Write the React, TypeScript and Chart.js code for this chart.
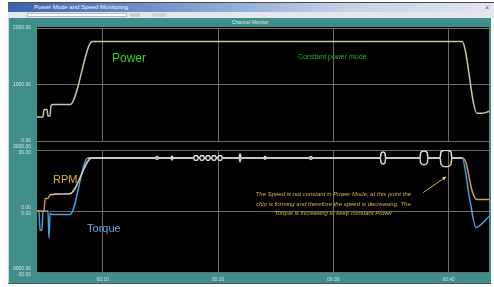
import React, { useEffect, useRef } from "react";
import { Chart, registerables } from "chart.js";

Chart.register(...registerables);

// ---------- data ----------
const timeTicks = [10, 20, 30, 40];
const timeTickLabels = ["00:10", "00:20", "00:30", "00:40"];

const powerTicks = [0, 1000, 2000];
const powerTickLabels = ["0.00", "1000.00", "2000.00"];

const lowerTicks = [-3000, 0, 3000];
const rpmTickLabels = ["-3000.00", "0.00", "3000.00"];
const torqueTickLabels = ["-30.00", "0.00", "30.00"];

const powerTime = [4.3, 4.82, 4.91, 5.17, 5.25, 5.43, 5.51, 5.69, 7.16, 8.9, 9.16, 41.16, 42.46, 42.98, 43.5];
const powerWatts = [424, 424, 559, 559, 441, 441, 627, 644, 644, 1729, 1763, 1763, 492, 492, 525];

// shared time stamps of the constant-power section (where the traces split into small loops)
const cruiseTime = [
  14.54, 14.71, 14.88, 15.92, 16.01, 16.1,
  17.87, 17.98, 18.2, 18.31, 18.39, 18.5, 18.72, 18.83, 18.91, 19.02, 19.24, 19.35,
  19.43, 19.54, 19.76, 19.87, 19.95, 20.06, 20.28, 20.39,
  21.82, 21.91, 22.0, 23.94, 24.07, 24.2, 27.89, 28.06, 28.23,
  34.09, 34.13, 34.31, 34.49, 34.53,
  37.51, 37.58, 37.86, 38.14, 38.21,
  39.25, 39.35, 39.77, 40.19, 40.29,
  41.16,
];
const rpmCruise = [
  2610, 2537, 2610, 2610, 2512, 2610,
  2610, 2500, 2500, 2610, 2610, 2500, 2500, 2610, 2610, 2500, 2500, 2610,
  2610, 2500, 2500, 2610, 2610, 2500, 2500, 2610,
  2610, 2415, 2610, 2610, 2537, 2610, 2610, 2537, 2610,
  2610, 2390, 2317, 2390, 2610,
  2610, 2354, 2269, 2354, 2610,
  2610, 2280, 2171, 2280, 2610,
  2610,
];
const torqueCruise = [
  26.1, 26.8, 26.1, 26.1, 27.1, 26.1,
  26.1, 27.2, 27.2, 26.1, 26.1, 27.2, 27.2, 26.1, 26.1, 27.2, 27.2, 26.1,
  26.1, 27.2, 27.2, 26.1, 26.1, 27.2, 27.2, 26.1,
  26.1, 28.1, 26.1, 26.1, 26.8, 26.1, 26.1, 26.8, 26.1,
  26.1, 28.3, 29.0, 28.3, 26.1,
  26.1, 28.7, 29.5, 28.7, 26.1,
  26.1, 29.2, 29.9, 29.2, 26.1,
  26.1,
];

const rpmStartTime = [4.3, 4.91, 5.0, 5.25, 5.43, 7.16, 9.07];
const rpmStart = [0, 0, 610, 610, 805, 854, 2610];
const rpmEndTime = [41.51, 42.03, 42.46, 43.5];
const rpmEnd = [2366, 1000, 561, 561];

const torqueStartTime = [4.3, 4.47, 4.56, 4.73, 4.82, 5.25, 5.34, 5.43, 5.6, 7.16, 8.72];
const torqueStart = [0, 0, -9.5, -9.5, 0, 0, -13.4, -1.2, -1.7, -1.7, 26.1];
const torqueEndTime = [41.85, 42.37, 43.5];
const torqueEnd = [5.1, -8.0, -2.7];

const noteLines = [
  "The Speed is not constant in Power Mode, at this point the",
  "chip is forming and therefore the speed is decreasing. The",
  "Torque is increasing to keep constant Power",
];

const FONT = '"Liberation Sans", Arial, sans-serif';

const toPoints = (xs: number[], ys: number[]) => xs.map((x, i) => ({ x, y: ys[i] }));

const X_MIN = 4.3;
const X_MAX = 43.5;

const xAxis = (showLabels: boolean) => ({
  type: "linear" as const,
  min: X_MIN,
  max: X_MAX,
  afterBuildTicks: (s: any) => {
    s.ticks = timeTicks.map((v) => ({ value: v }));
  },
  afterFit: (s: any) => {
    s.height = showLabels ? 13 : 0;
  },
  ticks: {
    display: showLabels,
    color: "#cfe3e0",
    font: { size: 5, family: FONT },
    padding: 5,
    maxRotation: 0,
    autoSkip: false,
    callback: (v: any) => {
      const i = timeTicks.indexOf(Number(v));
      return i >= 0 ? timeTickLabels[i] : "";
    },
  },
  grid: { color: "#6c6c6c", lineWidth: 1, drawTicks: false },
  border: { display: false },
});

const topLabels = {
  id: "topLabels",
  afterDatasetsDraw(chart: any) {
    const { ctx, scales } = chart;
    const x = scales.x;
    const y = scales.y;
    ctx.save();
    ctx.textBaseline = "middle";
    ctx.textAlign = "left";
    ctx.fillStyle = "#2fd12f";
    ctx.font = `12px ${FONT}`;
    ctx.fillText("Power", x.getPixelForValue(10.8), y.getPixelForValue(1458));
    ctx.fillStyle = "#27b827";
    ctx.font = `7px ${FONT}`;
    ctx.fillText("Constant power mode", x.getPixelForValue(26.94), y.getPixelForValue(1492));
    ctx.restore();
  },
};

const bottomLabels = {
  id: "bottomLabels",
  afterDatasetsDraw(chart: any) {
    const { ctx, scales } = chart;
    const x = scales.x;
    const y = scales.y;
    ctx.save();
    ctx.textBaseline = "middle";
    ctx.textAlign = "left";
    ctx.fillStyle = "#d9b233";
    ctx.font = `11px ${FONT}`;
    ctx.fillText("RPM", x.getPixelForValue(5.69), y.getPixelForValue(1537));
    ctx.fillStyle = "#5fa6de";
    ctx.fillText("Torque", x.getPixelForValue(8.64), y.getPixelForValue(-902));

    ctx.fillStyle = "#d6b24a";
    ctx.font = `italic 6px ${FONT}`;
    ctx.textAlign = "center";
    const cx = x.getPixelForValue(30);
    const rows = [805, 317, -122];
    noteLines.forEach((line, i) => ctx.fillText(line, cx, y.getPixelForValue(rows[i])));

    const x1 = x.getPixelForValue(37.78);
    const y1 = y.getPixelForValue(902);
    const x2 = x.getPixelForValue(39.77);
    const y2 = y.getPixelForValue(1683);
    ctx.strokeStyle = "#cdb060";
    ctx.lineWidth = 1;
    ctx.beginPath();
    ctx.moveTo(x1, y1);
    ctx.lineTo(x2, y2);
    ctx.stroke();
    const ang = Math.atan2(y2 - y1, x2 - x1);
    ctx.fillStyle = "#f0e080";
    ctx.beginPath();
    ctx.moveTo(x2, y2);
    ctx.lineTo(x2 - 4 * Math.cos(ang - 0.5), y2 - 4 * Math.sin(ang - 0.5));
    ctx.lineTo(x2 - 4 * Math.cos(ang + 0.5), y2 - 4 * Math.sin(ang + 0.5));
    ctx.closePath();
    ctx.fill();
    ctx.restore();
  },
};

export default function App() {
  const topRef = useRef<HTMLCanvasElement | null>(null);
  const botRef = useRef<HTMLCanvasElement | null>(null);

  useEffect(() => {
    const top = new Chart(topRef.current as HTMLCanvasElement, {
      type: "line",
      data: {
        datasets: [
          {
            label: "Power",
            data: toPoints(powerTime, powerWatts),
            borderColor: "#c6c8a4",
            borderWidth: 1.5,
            pointRadius: 0,
            cubicInterpolationMode: "monotone",
          },
        ],
      },
      options: {
        animation: false,
        responsive: false,
        maintainAspectRatio: false,
        layout: { padding: { top: 10, right: 2, bottom: 4, left: 0 } },
        plugins: { legend: { display: false }, tooltip: { enabled: false }, title: { display: false } },
        scales: {
          x: xAxis(false) as any,
          y: {
            min: 0,
            max: 2000,
            afterBuildTicks: (s: any) => {
              s.ticks = powerTicks.map((v) => ({ value: v }));
            },
            afterFit: (s: any) => {
              s.width = 29;
            },
            ticks: {
              color: "#d3e6e3",
              font: { size: 5, family: FONT },
              padding: 6,
              callback: (v: any) => powerTickLabels[powerTicks.indexOf(Number(v))] ?? "",
            },
            grid: { color: "#6c6c6c", lineWidth: 1, drawTicks: false },
            border: { display: false },
          },
        },
      },
      plugins: [topLabels],
    });

    const rpmTimeAll = [...rpmStartTime, ...cruiseTime, ...rpmEndTime];
    const rpmAll = [...rpmStart, ...rpmCruise, ...rpmEnd];
    const torqueTimeAll = [...torqueStartTime, ...cruiseTime, ...torqueEndTime];
    const torqueAll = [...torqueStart, ...torqueCruise, ...torqueEnd];

    const bottom = new Chart(botRef.current as HTMLCanvasElement, {
      type: "line",
      data: {
        datasets: [
          {
            label: "RPM",
            data: toPoints(rpmTimeAll, rpmAll),
            yAxisID: "y",
            borderColor: "#cfc6ba",
            borderWidth: 1.5,
            pointRadius: 0,
            cubicInterpolationMode: "monotone",
            segment: {
              borderColor: (c: any) =>
                c.p1.parsed.x <= 5.43 ? "#e0952c" : c.p0.parsed.x >= 41.16 ? "#c99d64" : "#d4ccc2",
            },
          },
          {
            label: "Torque",
            data: toPoints(torqueTimeAll, torqueAll),
            yAxisID: "yT",
            borderColor: "#4d9fdc",
            borderWidth: 1.5,
            pointRadius: 0,
            cubicInterpolationMode: "monotone",
            segment: {
              borderColor: (c: any) =>
                c.p0.parsed.x >= 8.72 && c.p1.parsed.x <= 41.16 ? "#dde5ee" : "#4d9fdc",
            },
          },
        ],
      },
      options: {
        animation: false,
        responsive: false,
        maintainAspectRatio: false,
        layout: { padding: { top: 11, right: 2, bottom: 0, left: 0 } },
        plugins: { legend: { display: false }, tooltip: { enabled: false } },
        scales: {
          x: xAxis(true) as any,
          y: {
            min: -3000,
            max: 3000,
            afterBuildTicks: (s: any) => {
              s.ticks = lowerTicks.map((v) => ({ value: v }));
            },
            afterFit: (s: any) => {
              s.width = 29;
            },
            ticks: {
              color: "#d3e6e3",
              font: { size: 5, family: FONT },
              padding: 6,
              callback: (v: any) => {
                const i = lowerTicks.indexOf(Number(v));
                return i >= 0 ? [rpmTickLabels[i], torqueTickLabels[i]] : "";
              },
            },
            grid: { color: "#6c6c6c", lineWidth: 1, drawTicks: false },
            border: { display: false },
          },
          yT: {
            display: false,
            min: -30,
            max: 30,
          },
        },
      },
      plugins: [bottomLabels],
    });

    return () => {
      top.destroy();
      bottom.destroy();
    };
  }, []);

  return (
    <div
      style={{
        position: "fixed",
        left: 0,
        top: 0,
        width: 494,
        height: 287,
        background: "#ffffff",
        overflow: "hidden",
        fontFamily: FONT,
      }}
    >
      <div style={{ position: "absolute", left: 8, top: 2, width: 486, height: 1, background: "#4a4a4a" }} />
      <div
        style={{
          position: "absolute",
          left: 8,
          top: 3,
          width: 486,
          height: 9,
          background: "linear-gradient(to right, #3d62ad 0%, #7b9bd0 35%, #c5d3e8 70%, #dfe6f0 100%)",
          color: "#f2f6ff",
          fontSize: 6,
          lineHeight: "9px",
        }}
      >
        <span style={{ position: "absolute", left: 26 }}>Power Mode and Speed Monitoring</span>
        <span style={{ position: "absolute", right: 5, color: "#40506a", fontSize: 7 }}>×</span>
      </div>
      <div style={{ position: "absolute", left: 8, top: 12, width: 486, height: 6, background: "#e4e8ec" }}>
        <div style={{ position: "absolute", left: 19, top: 1, width: 100, height: 4, background: "#fbfbfb", border: "1px solid #b8bcc4", boxSizing: "border-box" }} />
        <div style={{ position: "absolute", left: 122, top: 1, width: 10, height: 4, background: "#c8ccd2" }} />
        <div style={{ position: "absolute", left: 144, top: 1, width: 14, height: 4, background: "#d0d4da" }} />
      </div>
      <div style={{ position: "absolute", left: 8, top: 18, width: 483, height: 265, background: "#3f8e8a" }} />
      <div style={{ position: "absolute", left: 8, top: 18, width: 1, height: 265, background: "#bfe0dc" }} />
      <div style={{ position: "absolute", left: 8, top: 283, width: 483, height: 1, background: "#555" }} />
      <div style={{ position: "absolute", left: 37, top: 27, width: 452, height: 245, background: "#000" }} />
      <div
        style={{
          position: "absolute",
          left: 200,
          top: 19,
          width: 100,
          textAlign: "center",
          fontSize: 5,
          color: "#d4ebe8",
          lineHeight: "7px",
        }}
      >
        Channel Monitor
      </div>
      <canvas
        ref={topRef}
        width={483}
        height={132}
        style={{ position: "absolute", left: 8, top: 18, width: 483, height: 132 }}
      />
      <canvas
        ref={botRef}
        width={483}
        height={147}
        style={{ position: "absolute", left: 8, top: 138, width: 483, height: 147 }}
      />
    </div>
  );
}
